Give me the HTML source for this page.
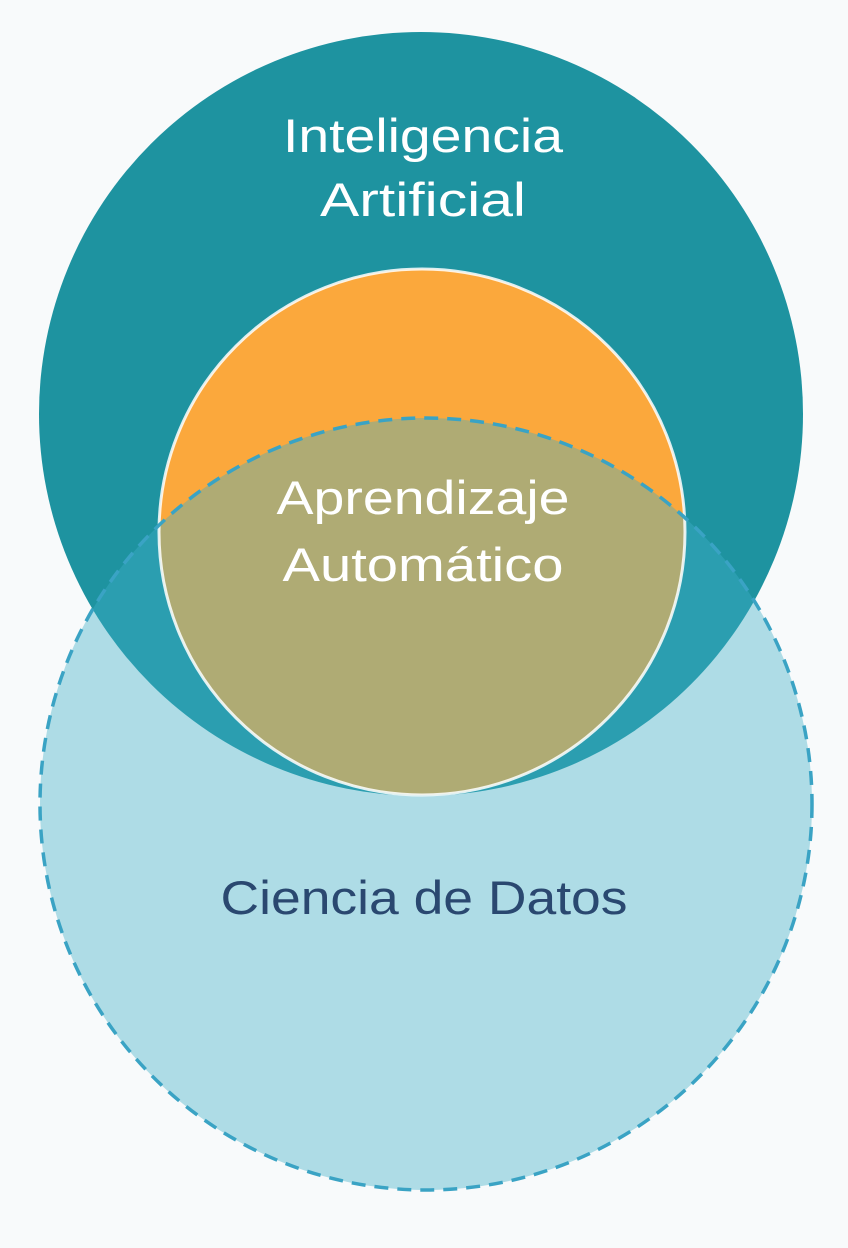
<!DOCTYPE html>
<html><head><meta charset="utf-8"><style>
html,body{margin:0;padding:0;background:#f8fafb;}
svg{display:block}
text{font-family:"Liberation Sans",sans-serif;text-anchor:middle;}
</style></head><body>
<svg width="848" height="1248" viewBox="0 0 848 1248">
<rect width="848" height="1248" fill="#f8fafb"/>
<circle cx="421" cy="414" r="382" fill="#1e93a0"/>
<circle cx="422" cy="532" r="263" fill="#fba83c"/>
<circle cx="426" cy="804" r="386" fill="rgb(63,175,200)" fill-opacity="0.4"/>
<circle cx="422" cy="532" r="263" fill="none" stroke="#ffffff" stroke-width="3" stroke-opacity="0.85"/>
<circle cx="426" cy="804" r="386" fill="none" stroke="#3aa3c4" stroke-width="3.5" stroke-dasharray="14 9"/>
<text x="423" y="152" font-size="47" fill="#ffffff" textLength="280" lengthAdjust="spacingAndGlyphs">Inteligencia</text>
<text x="423" y="216" font-size="47" fill="#ffffff" textLength="206" lengthAdjust="spacingAndGlyphs">Artificial</text>
<text x="423" y="514" font-size="47" fill="#ffffff" textLength="293" lengthAdjust="spacingAndGlyphs">Aprendizaje</text>
<text x="423" y="581" font-size="47" fill="#ffffff" textLength="281" lengthAdjust="spacingAndGlyphs">Automático</text>
<text x="424" y="914" font-size="47" fill="#2a4870" textLength="407" lengthAdjust="spacingAndGlyphs">Ciencia de Datos</text>
</svg>
</body></html>
